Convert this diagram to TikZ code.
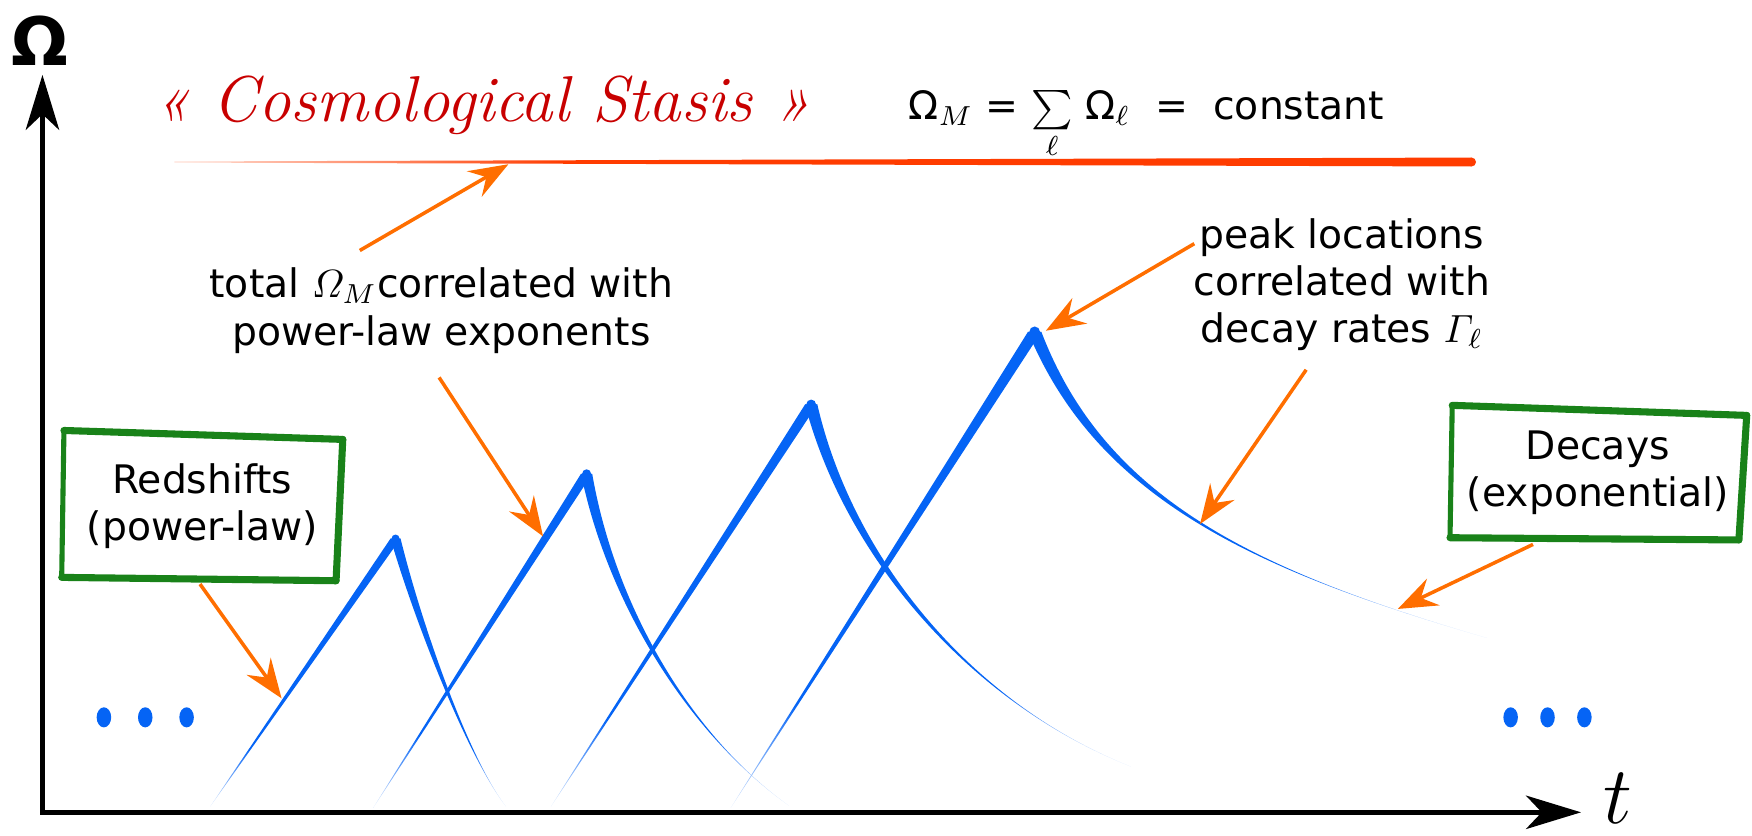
\documentclass[tikz,border=0pt]{standalone}
\usepackage{amsmath}
\usepackage{fontspec}
\newfontfamily\handfont{DejaVu Sans}
\usetikzlibrary{arrows.meta,calc}
\definecolor{wave}{RGB}{5,100,245}
\definecolor{pointc}{RGB}{255,110,0}
\definecolor{flatred}{RGB}{255,60,0}
\definecolor{titlered}{RGB}{200,0,0}
\definecolor{boxgreen}{RGB}{25,130,25}
\pgfdeclareverticalshading{bluefade}{100bp}{color(0bp)=(wave!12); color(25bp)=(wave!12); color(36bp)=(wave); color(100bp)=(wave)}
\pgfdeclarehorizontalshading{redfade}{100bp}{color(0bp)=(flatred!15); color(25bp)=(flatred!15); color(40bp)=(flatred); color(100bp)=(flatred)}
\begin{document}
\begin{tikzpicture}[x=0.01cm,y=-0.01cm,
  axis/.style={line width=1.2pt,line cap=rect,-{Stealth[length=14pt,width=8.5pt,inset=4pt]}},
  pointer/.style={draw=pointc,line width=0.9pt,-{Stealth[length=10pt,width=7.5pt,inset=3.5pt]}},
  note/.style={font=\handfont\fontsize{10}{12}\selectfont,align=center,inner sep=0pt},
  boxtext/.style={note,minimum width=2.5cm,minimum height=1.3cm},
  sketch/.style={draw=boxgreen,line width=1.8pt,line cap=round}]
  \useasboundingbox (0,0) rectangle (1568,748);
  % axes
  \coordinate (o) at (38,727);
  \coordinate (ytip) at (38,67);
  \coordinate (xtip) at (1415,727);
  \draw[axis] (o) -- (ytip);
  \draw[axis] (o) -- (xtip);
  \node[font=\handfont\bfseries\fontsize{17}{19}\selectfont] (omlab) at (36,36) {Ω};
  \node[anchor=base,font=\fontsize{20}{24}\selectfont] (tlab) at (1448,737) {$t$};
  % stasis line and headline
  \node[anchor=base,text=titlered,font=\itshape\fontsize{16.5}{20}\selectfont] (title) at (432,109) {«~Cosmological Stasis~»};
  \node[anchor=base,font=\handfont\fontsize{10}{12}\selectfont] (sumrule) at (1026,107) {Ω$_{M}$ = $\sum\limits_{\ell}$ Ω$_{\ell}$ \ = \ constant};
  \coordinate (r0) at (156,145);
  \coordinate (r1) at (1317,145);
  \shade[shading=redfade] ($(r0)+(0,-0.5)$) -- ($(r1)+(0,-4)$) -- ($(r1)+(0,4)$) -- ($(r0)+(0,0.5)$) -- cycle;
  \fill[flatred] (r1) circle [radius=4];
  % peaks: foot f, top p, decay controls a,b, end e
  \coordinate (f1) at (188,722); \coordinate (p1) at (354,482);
  \coordinate (a1) at (375,560); \coordinate (b1) at (420,680); \coordinate (e1) at (453,722);
  \coordinate (f2) at (334,723); \coordinate (p2) at (525,424);
  \coordinate (a2) at (548,545); \coordinate (b2) at (620,660); \coordinate (e2) at (706,721);
  \coordinate (f3) at (493,722); \coordinate (p3) at (726,362);
  \coordinate (a3) at (760,500); \coordinate (b3) at (870,630); \coordinate (e3) at (1012,686);
  \coordinate (f4) at (654,723); \coordinate (p4) at (926,297);
  \coordinate (a4) at (985,445); \coordinate (b4) at (1120,510); \coordinate (e4) at (1331,571);
  \foreach \i/\hw in {1/4.5,2/5,3/5.5,4/6}{
    \shade[shading=bluefade] (f\i) -- ($(p\i)+(-\hw,0)$) -- ($(p\i)+(\hw,0)$) -- cycle;
    \shade[shading=bluefade] ($(p\i)+(-\hw,0)$) .. controls ($(a\i)+(-0.6*\hw,0)$) and (b\i) .. (e\i)
      .. controls (b\i) and ($(a\i)+(0.6*\hw,0)$) .. ($(p\i)+(\hw,0)$) -- cycle;
    \fill[wave] (p\i) circle [radius=0.8*\hw];
  }
  \foreach \x in {93,130,167,1352,1385,1418}
    \fill[wave] (\x,642) ellipse [x radius=6.5,y radius=9];
  % labels
  \node[note] (totlab) at (395,278) {total $\varOmega_M$correlated with\\power-law exponents};
  \node[note] (peaklab) at (1201,255) {peak locations\\correlated with\\decay rates $\varGamma_{\ell}$};
  \node[boxtext] (rsbox) at (181,453) {Redshifts\\(power-law)};
  \node[boxtext,minimum width=2.63cm,minimum height=1.19cm] (dcbox) at (1430,423) {Decays\\(exponential)};
  \draw[sketch] ($(rsbox.north west)+(2,-2)$) -- ($(rsbox.north east)+(0,6)$);
  \draw[sketch] ($(rsbox.north east)+(0,6)$) -- ($(rsbox.south east)+(-6,1)$);
  \draw[sketch] ($(rsbox.south east)+(-6,1)$) -- ($(rsbox.south west)+(0,-2)$);
  \draw[sketch,line width=1.3pt] ($(rsbox.south west)+(0,-2)$) -- ($(rsbox.north west)+(2,-2)$);
  \draw[sketch] ($(dcbox.north west)+(2,0)$) -- ($(dcbox.north east)+(1,9)$);
  \draw[sketch] ($(dcbox.north east)+(1,9)$) -- ($(dcbox.south east)+(-6,0)$);
  \draw[sketch] ($(dcbox.south east)+(-6,0)$) -- ($(dcbox.south west)+(0,-2)$);
  \draw[sketch,line width=1.3pt] ($(dcbox.south west)+(0,-2)$) -- ($(dcbox.north west)+(2,0)$);
  % pointers
  \coordinate (h1) at (455,147); \coordinate (t1) at ($(totlab.north)+(-73,-15)$);
  \coordinate (h2) at (486,480); \coordinate (t2) at ($(totlab.south)+(-2,21)$);
  \coordinate (h3) at (252,625); \coordinate (t3) at ($(rsbox.south)+(-2,4)$);
  \coordinate (h4) at (936,296); \coordinate (t4) at ($(peaklab.north west)+(1,23)$);
  \coordinate (h5) at (1074,469); \coordinate (t5) at ($(peaklab.south)+(-32,16)$);
  \coordinate (h6) at (1251,545); \coordinate (t6) at ($(dcbox.south)+(-58,4)$);
  \foreach \k in {1,...,6}
    \draw[pointer] (t\k) -- (h\k);
\end{tikzpicture}
\end{document}
